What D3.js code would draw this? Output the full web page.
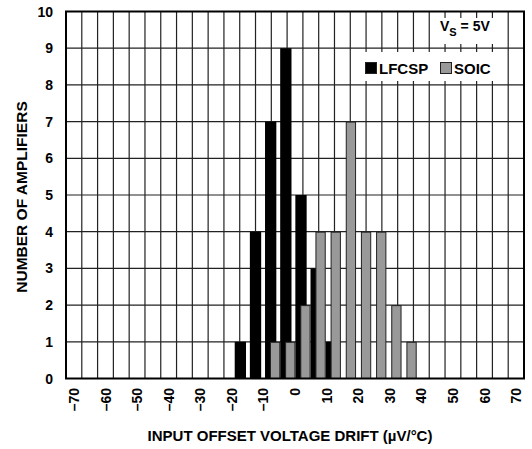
<!DOCTYPE html>
<html>
<head>
<meta charset="utf-8">
<script src="https://cdn.jsdelivr.net/npm/d3@7"></script>
<style>
  html, body { margin: 0; padding: 0; background: #fff; }
  svg text { font-family: "Liberation Sans", Arial, Helvetica, sans-serif; font-weight: bold; fill: #000; }
</style>
</head>
<body>
<svg id="chart" width="532" height="449"></svg>
<script>
// ---- data ----
const seriesNames = ["LFCSP", "SOIC"];
const lfcspDrift = [-17.3, -12.5, -7.7, -2.9, 1.9, 6.7, 11.5];
const lfcspCount = [1, 4, 7, 9, 5, 3, 1];
const soicDrift = [-6.3, -1.5, 3.3, 8.1, 12.9, 17.7, 22.5, 27.3, 32.1, 36.9];
const soicCount = [1, 1, 2, 4, 4, 7, 4, 4, 2, 1];
const xTicks = [-70, -60, -50, -40, -30, -20, -10, 0, 10, 20, 30, 40, 50, 60, 70];
const yTicks = [0, 1, 2, 3, 4, 5, 6, 7, 8, 9, 10];
const xGrid = d3.range(-67.5, 70, 5);
const xTitle = "INPUT OFFSET VOLTAGE DRIFT (µV/°C)";
const yTitle = "NUMBER OF AMPLIFIERS";

// ---- layout ----
const svg = d3.select("#chart");
const L = 66, R = 524, T = 11.5, B = 378.5;
const x = d3.scaleLinear().domain([-72.5, 72.5]).range([L, R]);
const y = d3.scaleLinear().domain([0, 10]).range([B, T]);
const colors = { LFCSP: "#000", SOIC: "#999" };
const wBlack = x(3.58) - x(0);
const wGray = x(3.26) - x(0);

// grid
svg.append("g").selectAll("line").data(xGrid).join("line")
  .attr("x1", d => x(d)).attr("x2", d => x(d)).attr("y1", T).attr("y2", B)
  .attr("stroke", "#222").attr("stroke-width", 1.2);
svg.append("g").selectAll("line").data(yTicks.slice(1, -1)).join("line")
  .attr("x1", L).attr("x2", R).attr("y1", d => y(d)).attr("y2", d => y(d))
  .attr("stroke", "#222").attr("stroke-width", 1.2);

// bars
svg.append("g").selectAll("rect").data(lfcspDrift.map((d, i) => ({ d, c: lfcspCount[i] }))).join("rect")
  .attr("x", e => x(e.d) - wBlack / 2).attr("width", wBlack)
  .attr("y", e => y(e.c)).attr("height", e => y(0) - y(e.c))
  .attr("fill", colors.LFCSP);
svg.append("g").selectAll("rect").data(soicDrift.map((d, i) => ({ d, c: soicCount[i] }))).join("rect")
  .attr("x", e => x(e.d) - wGray / 2 + 0.5).attr("width", wGray - 1)
  .attr("y", e => y(e.c) + 0.5).attr("height", e => y(0) - y(e.c) - 0.5)
  .attr("fill", colors.SOIC).attr("stroke", "#222").attr("stroke-width", 1);

// frame
svg.append("rect").attr("x", L).attr("y", T).attr("width", R - L).attr("height", B - T)
  .attr("fill", "none").attr("stroke", "#000").attr("stroke-width", 2);

// y tick labels
svg.append("g").selectAll("text").data(yTicks).join("text")
  .attr("x", 53).attr("y", d => y(d)).attr("dy", "0.36em")
  .attr("text-anchor", "end").attr("font-size", 14)
  .text(d => d);

// x tick labels (rotated)
svg.append("g").selectAll("text").data(xTicks).join("text")
  .attr("transform", d => `translate(${x(d)},388) rotate(-90)`)
  .attr("dy", "0.36em").attr("text-anchor", "end").attr("font-size", 14)
  .text(d => d < 0 ? "\u2013" + Math.abs(d) : d);

// axis titles
svg.append("text").attr("x", 290).attr("y", 441).attr("text-anchor", "middle")
  .attr("font-size", 15).text(xTitle);
svg.append("text").attr("transform", `translate(27,${(T + B) / 2 + 2}) rotate(-90)`)
  .attr("text-anchor", "middle").attr("font-size", 15.5).text(yTitle);

// VS annotation
svg.append("rect").attr("x", 435).attr("y", 18).attr("width", 70).attr("height", 26).attr("fill", "#fff");
const vs = svg.append("text").attr("x", 440).attr("y", 31).attr("font-size", 14);
vs.append("tspan").text("V");
vs.append("tspan").attr("font-size", 11).attr("dy", 5).text("S");
vs.append("tspan").attr("dy", -5).text(" = 5V");

// legend
svg.append("rect").attr("x", 359).attr("y", 52).attr("width", 143).attr("height", 29).attr("fill", "#fff");
const legendX = [365, 440];
seriesNames.forEach((s, i) => {
  svg.append("rect").attr("x", legendX[i] + 0.5).attr("y", 62.5).attr("width", 11).attr("height", 11)
    .attr("fill", colors[s]).attr("stroke", "#222").attr("stroke-width", 1);
  svg.append("text").attr("x", legendX[i] + 14).attr("y", 73.5).attr("font-size", 15).text(s);
});
</script>
</body>
</html>
